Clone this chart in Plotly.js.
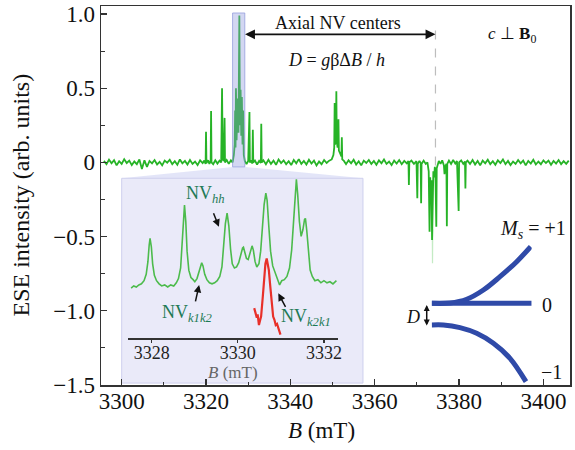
<!DOCTYPE html>
<html>
<head>
<meta charset="utf-8">
<script src="https://cdn.plot.ly/plotly-3.0.1.min.js"></script>
<style>html,body{margin:0;padding:0;background:#fff;}#chart{width:575px;height:450px;}</style>
</head>
<body>
<div id="chart"></div>
<script>
// ---------- main ESE spectrum (B in mT, intensity arb. units) ----------
var specB = [
 3295.8,3296.4,3297.0,3297.6,3298.2,3298.8,3299.4,3300.0,3300.6,3301.2,
 3301.8,3302.4,3303.0,3303.6,3304.2,3304.8,3305.4,3306.0,3306.6,3307.2,
 3307.8,3308.4,3309.0,3309.6,3310.2,3310.8,3311.4,3312.0,3312.6,3313.2,
 3313.8,3314.4,3315.0,3315.6,3316.2,3316.8,3317.4,3318.0,3318.6,3319.2,
 3319.6,3319.9,3320.0,3320.1,3320.5,3320.8,3321.1,3321.2,3321.3,3321.7,
 3322.2,3322.7,3323.2,3323.6,3323.8,3323.95,3324.2,3324.4,3324.5,3324.9,
 3325.4,3325.9,3326.3,3326.6,3326.8,3326.9,3327.0,3327.1,3327.25,3327.5,
 3327.7,3327.9,3328.05,3328.2,3328.35,3328.5,3328.65,3328.8,3328.95,3329.2,
 3329.6,3330.0,3330.3,3330.4,3330.7,3331.0,3331.1,3331.2,3331.6,3332.1,
 3332.6,3333.0,3333.1,3333.2,3333.6,3334.2,
 3334.8,3335.4,3336.0,3336.6,3337.2,3337.8,3338.4,3339.0,3339.6,3340.2,
 3340.8,3341.4,3342.0,3342.6,3343.2,3343.8,3344.4,3345.0,3345.6,3346.2,
 3346.8,3347.4,3348.0,3348.6,3349.2,3349.8,
 3350.2,3350.4,3350.5,3350.6,3350.8,3350.9,3351.0,3351.2,3351.4,3351.5,
 3351.8,3352.1,3352.2,3352.3,3352.7,
 3353.2,3353.8,3354.4,3355.0,3355.6,3356.2,3356.8,3357.4,3358.0,3358.6,
 3359.2,3359.8,3360.4,3361.0,3361.6,3362.2,3362.8,3363.4,3364.0,3364.6,
 3365.2,3365.8,3366.4,3367.0,3367.6,
 3368.0,3368.1,3368.2,3368.7,3369.3,3369.9,3370.1,3370.2,3370.6,3370.9,
 3371.0,3371.1,3371.6,3372.1,3372.5,3372.8,3373.0,3373.15,3373.3,3373.45,
 3373.6,3373.75,3373.9,3374.1,3374.25,3374.4,3374.6,3374.7,3374.9,3375.2,
 3375.6,3376.0,3376.4,3376.55,3376.7,3377.0,3377.1,3377.2,3377.6,3378.1,
 3378.6,3379.1,3379.5,3379.9,3380.0,3380.5,3381.0,3381.4,3381.5,3381.6,
 3382.0,
 3382.6,3383.2,3383.8,3384.4,3385.0,3385.6,3386.2,3386.8,3387.4,3388.0,
 3388.6,3389.2,3389.8,3390.4,3391.0,3391.6,3392.2,3392.8,3393.4,3394.0,
 3394.6,3395.2,3395.8,3396.4,3397.0,3397.6,3398.2,3398.8,3399.4,3400.0,
 3400.6,3401.2,3401.8,3402.4,3403.0,3403.6,3404.2,3404.8,3405.4,3406.0
];
var specI = [
 0.010,-0.012,0.018,-0.006,0.015,-0.020,0.008,-0.010,0.022,-0.004,
 0.012,-0.018,0.006,-0.012,0.020,-0.045,0.014,-0.030,0.010,-0.006,
 0.016,-0.014,0.004,-0.020,0.012,-0.002,0.018,-0.012,0.008,-0.016,
 0.020,-0.006,0.010,-0.014,0.016,-0.010,0.006,-0.018,0.014,-0.004,
 0.012,-0.010,0.207,-0.005,0.015,-0.010,0.010,0.346,0.000,-0.012,
 0.014,-0.008,0.012,0.000,0.500,0.020,0.010,0.300,0.000,0.016,
 -0.010,0.014,0.000,0.050,0.120,0.350,0.100,0.500,0.150,0.430,
 0.200,0.990,0.250,0.490,0.180,0.440,0.120,0.350,0.050,0.010,
 -0.012,0.010,0.340,0.000,0.014,-0.008,0.220,0.000,0.012,-0.014,
 0.010,-0.004,0.260,0.000,0.014,-0.012,
 0.018,-0.010,0.012,-0.016,0.020,-0.004,0.014,-0.012,0.008,-0.018,
 0.016,-0.006,0.022,-0.010,0.010,-0.014,0.018,-0.008,0.012,-0.020,
 0.006,-0.012,0.016,-0.004,0.012,0.020,
 0.050,0.100,0.400,0.120,0.150,0.480,0.140,0.100,0.290,0.080,
 0.060,0.040,0.170,0.020,0.010,
 -0.012,0.014,-0.006,0.018,-0.014,0.008,-0.020,0.012,-0.004,0.016,
 -0.010,0.010,-0.016,0.014,-0.006,0.020,-0.010,0.006,-0.018,0.012,
 -0.008,0.016,-0.012,0.010,-0.006,
 0.010,-0.152,0.000,0.012,-0.010,0.008,-0.242,-0.010,0.010,-0.005,
 -0.276,-0.010,0.012,-0.010,0.000,-0.060,-0.467,-0.100,-0.200,-0.120,
 -0.523,-0.150,-0.060,-0.100,-0.030,-0.080,-0.433,-0.040,-0.020,0.010,
 -0.010,0.014,-0.020,-0.080,-0.030,-0.010,-0.430,-0.010,0.012,-0.010,
 0.016,-0.008,0.010,-0.327,0.000,0.014,-0.010,0.006,-0.175,0.000,
 0.012,
 -0.010,0.016,-0.014,0.010,-0.020,0.012,-0.006,0.018,-0.012,0.008,
 -0.016,0.014,-0.004,0.020,-0.012,0.010,-0.018,0.006,-0.010,0.016,
 -0.006,0.012,-0.020,0.010,-0.008,0.018,-0.014,0.006,-0.012,0.014,
 -0.004,0.012,-0.016,0.010,-0.008,0.016,-0.012,0.008,-0.010,0.012
];
// faint tail of the strongest negative line
var faintB = [3373.65, 3373.7, 3373.75];
var faintI = [-0.45, -0.68, -0.45];

// ---------- inset: zoom of the axial NV region ----------
var insetB = [
 3327.52,3327.58,3327.64,3327.70,3327.76,3327.82,3327.87,3327.91,3327.94,3327.96,
 3327.99,3328.02,3328.06,3328.11,3328.17,3328.23,3328.30,3328.37,3328.44,3328.51,
 3328.57,3328.62,3328.67,3328.71,3328.74,3328.76,3328.79,3328.82,3328.86,3328.91,
 3328.96,3329.00,3329.05,3329.10,3329.13,3329.16,3329.19,3329.23,3329.28,3329.34,
 3329.40,3329.46,3329.52,3329.58,3329.63,3329.67,3329.71,3329.75,3329.79,3329.83,
 3329.87,3329.92,3329.97,3330.02,3330.07,3330.11,3330.13,3330.16,3330.20,3330.24,
 3330.28,3330.31,3330.33,3330.36,3330.40,3330.44,3330.49,3330.53,3330.57,3330.61,
 3330.65,3330.68,3330.72,3330.76,3330.81,3330.86,3330.92,3330.97,3331.02,3331.08,
 3331.14,3331.20,3331.25,3331.29,3331.33,3331.36,3331.39,3331.43,3331.47,3331.51,
 3331.55,3331.57,3331.60,3331.64,3331.68,3331.73,3331.79,3331.86,3331.93,3332.00,
 3332.07,3332.14,3332.21,3332.29
];
var insetI = [
 -0.03,-0.01,-0.02,0.00,0.01,0.04,0.10,0.22,0.38,0.44,
 0.36,0.20,0.09,0.04,0.01,-0.01,0.00,-0.02,0.00,-0.01,
 0.02,0.06,0.16,0.40,0.68,0.757,0.60,0.32,0.14,0.07,
 0.05,0.03,0.06,0.13,0.19,0.21,0.18,0.10,0.05,0.02,
 0.01,0.02,0.04,0.08,0.17,0.36,0.58,0.68,0.56,0.34,
 0.20,0.16,0.17,0.21,0.30,0.35,0.357,0.32,0.25,0.24,
 0.31,0.36,0.37,0.33,0.22,0.17,0.20,0.32,0.52,0.76,
 0.87,0.80,0.55,0.32,0.18,0.12,0.05,0.00,0.04,0.05,
 0.08,0.16,0.33,0.60,0.88,1.00,0.86,0.60,0.46,0.52,
 0.62,0.63,0.52,0.30,0.14,0.08,0.04,0.05,0.02,0.04,
 0.02,0.03,0.01,0.04
];
var redB = [3330.38,3330.41,3330.44,3330.46,3330.49,3330.52,3330.54,3330.58,3330.61,3330.64,
            3330.67,3330.70,3330.72,3330.75,3330.77,3330.80,3330.82,3330.85,3330.88,3330.91,
            3330.94,3330.97,3330.99];
var redI = [-0.22,-0.26,-0.31,-0.28,-0.38,-0.33,-0.30,-0.11,0.08,0.20,
            0.25,0.20,0.14,0.00,-0.11,-0.22,-0.30,-0.33,-0.38,-0.37,
            -0.41,-0.45,-0.47];

// ---------- energy-level sketch (field fraction, energy) ----------
var levelPlusX  = [0, 0.183, 0.35, 0.517, 0.683, 0.85, 0.99];
var levelPlusE  = [0, 0.004, 0.053, 0.175, 0.351, 0.549, 0.747];
var levelZeroX  = [0, 1.0];
var levelZeroE  = [0, 0];
var levelMinusX = [0, 0.117, 0.283, 0.45, 0.617, 0.783, 0.943];
var levelMinusE = [-0.286, -0.286, -0.321, -0.396, -0.528, -0.726, -1.034];

// ---------- ticks ----------
var xTicks = [3300, 3320, 3340, 3360, 3380, 3400];
var yTicks = [1.0, 0.5, 0, -0.5, -1.0, -1.5];
var yTickText = ['1.0', '0.5', '0', '\u22120.5', '\u22121.0', '\u22121.5'];
var insetTicks = [3328, 3330, 3332];

var serif = 'Liberation Serif, Times New Roman, serif';
var green = '#26b326';
var blue = '#2f4aa8';
var teal = '#1e7a56';

var traces = [
  {x: specB, y: specI, type: 'scatter', mode: 'lines', xaxis: 'x', yaxis: 'y',
   line: {color: green, width: 1.8}, hoverinfo: 'skip'},
  {x: faintB, y: faintI, type: 'scatter', mode: 'lines', xaxis: 'x', yaxis: 'y',
   line: {color: 'rgba(60,190,60,0.3)', width: 1.2}, hoverinfo: 'skip'},
  {x: insetB, y: insetI, type: 'scatter', mode: 'lines', xaxis: 'x2', yaxis: 'y2',
   line: {color: '#4cbb4c', width: 1.6}, hoverinfo: 'skip'},
  {x: redB, y: redI, type: 'scatter', mode: 'lines', xaxis: 'x2', yaxis: 'y2',
   line: {color: '#e8302a', width: 2.2}, hoverinfo: 'skip'},
  {x: levelPlusX, y: levelPlusE, type: 'scatter', mode: 'lines', xaxis: 'x3', yaxis: 'y3',
   line: {color: blue, width: 5, shape: 'spline'}, hoverinfo: 'skip'},
  {x: levelZeroX, y: levelZeroE, type: 'scatter', mode: 'lines', xaxis: 'x3', yaxis: 'y3',
   line: {color: blue, width: 5}, hoverinfo: 'skip'},
  {x: levelMinusX, y: levelMinusE, type: 'scatter', mode: 'lines', xaxis: 'x3', yaxis: 'y3',
   line: {color: blue, width: 5, shape: 'spline'}, hoverinfo: 'skip'}
];

var axisCol = '#333';
function lbl(x, y, xref, yref, text, size, color) {
  return {x: x, y: y, xref: xref, yref: yref, text: text, showarrow: false,
          xanchor: 'center', yanchor: 'middle',
          font: {family: serif, size: size, color: color || '#111'}};
}
var yTitle = lbl(-0.1727, 0.5, 'paper', 'paper', 'ESE intensity (arb. units)', 24);
yTitle.textangle = -90;

var layout = {
  width: 575, height: 450,
  margin: {l: 101, r: 5, t: 6, b: 65},
  paper_bgcolor: '#ffffff', plot_bgcolor: 'rgba(0,0,0,0)',
  showlegend: false,
  font: {family: serif, color: '#111'},
  xaxis: {
    domain: [0, 1], range: [3295.1, 3406.3], anchor: 'y',
    tickvals: xTicks, ticks: 'inside', ticklen: 6, tickwidth: 1.2, tickcolor: axisCol,
    ticklabelstandoff: -5,
    showline: true, linecolor: axisCol, linewidth: 1.5, mirror: true,
    showgrid: false, zeroline: false,
    tickfont: {family: serif, size: 23, color: '#111'},
    minor: {ticks: 'inside', ticklen: 3.5, tickwidth: 1, tickcolor: axisCol, dtick: 10, tick0: 3300, showgrid: false}
  },
  yaxis: {
    domain: [0, 1], range: [-1.5, 1.054], anchor: 'x',
    tickvals: yTicks, ticktext: yTickText, ticks: 'inside', ticklen: 6, tickwidth: 1.2, tickcolor: axisCol,
    showline: true, linecolor: axisCol, linewidth: 1.5, mirror: true,
    showgrid: false, zeroline: false,
    tickfont: {family: serif, size: 23, color: '#111'},
    minor: {ticks: 'inside', ticklen: 3.5, tickwidth: 1, tickcolor: axisCol, dtick: 0.25, tick0: 0, showgrid: false}
  },
  xaxis2: {
    domain: [0.0569, 0.5047], range: [3327.44, 3332.32], anchor: 'y2',
    tickvals: insetTicks, ticks: 'outside', ticklen: 3, tickwidth: 1.2, tickcolor: '#333',
    ticklabelstandoff: -5,
    showline: true, linecolor: '#333', linewidth: 2, showgrid: false, zeroline: false,
    tickfont: {family: serif, size: 18, color: '#222'}
  },
  yaxis2: {
    domain: [0.1248, 0.546], range: [-0.5, 1.012], anchor: 'x2', visible: false
  },
  xaxis3: {domain: [0.7051, 0.9183], range: [0, 1], anchor: 'y3', visible: false},
  yaxis3: {domain: [0, 0.4], range: [-1.078, 0.922], anchor: 'x3', visible: false},
  shapes: [
    {type: 'path', xref: 'paper', yref: 'paper', layer: 'below',
     path: 'M 0.0441 0.5454 L 0.2814 0.5752 L 0.3070 0.5752 L 0.5586 0.5454 Z',
     fillcolor: 'rgba(215,218,245,0.7)', line: {width: 0}},
    {type: 'rect', xref: 'paper', yref: 'paper', layer: 'below',
     x0: 0.0441, x1: 0.5586, y0: 0.005, y1: 0.5454,
     fillcolor: '#eaeaf9', line: {color: '#cfd0ee', width: 1}},
    {type: 'rect', xref: 'x', yref: 'y', layer: 'above',
     x0: 3326.3, x1: 3329.2, y0: -0.03, y1: 1.007,
     fillcolor: 'rgba(140,150,220,0.38)', line: {color: 'rgba(140,150,220,0.7)', width: 1}},
    {type: 'line', xref: 'x', yref: 'y', x0: 3374.4, x1: 3374.4, y0: -0.02, y1: 0.93,
     line: {color: '#bdbdbd', width: 1.2, dash: 'dash'}}
  ],
  annotations: [
    // axis titles
    lbl(0.471, -0.12, 'paper', 'paper', '<i>B</i> (mT)', 23),
    yTitle,
    {x: 3374.4, y: 0.863, ax: 3328.9, ay: 0.863, xref: 'x', yref: 'y', axref: 'x', ayref: 'y',
     text: '', showarrow: true, arrowhead: 2, arrowside: 'end+start', arrowsize: 1.1, arrowwidth: 1.8, arrowcolor: '#111'},
    lbl(3351.3, 0.94, 'x', 'y', 'Axial NV centers', 18),
    lbl(3351.0, 0.69, 'x', 'y', '<i>D</i> = <i>g</i>\u03b2\u0394<i>B</i> / <i>h</i>', 18),
    lbl(3392.6, 0.858, 'x', 'y', '<i>c</i> \u22a5 <b>B</b><sub>0</sub>', 17),
    // inset labels
    lbl(0.281, 0.033, 'paper', 'paper', '<i>B</i> (mT)', 17, '#666'),
    lbl(3329.24, 0.86, 'x2', 'y2', 'NV<sub><i>hh</i></sub>', 18, teal),
    {x: 3329.56, y: 0.55, xref: 'x2', yref: 'y2', ax: -6, ay: -15, text: '', showarrow: true,
     arrowhead: 2, arrowsize: 1, arrowwidth: 1.5, arrowcolor: '#111'},
    lbl(3328.81, -0.27, 'x2', 'y2', 'NV<sub><i>k1k2</i></sub>', 18, teal),
    {x: 3329.10, y: 0.0, xref: 'x2', yref: 'y2', ax: -4, ay: 18, text: '', showarrow: true,
     arrowhead: 2, arrowsize: 1, arrowwidth: 1.5, arrowcolor: '#111'},
    lbl(3331.59, -0.31, 'x2', 'y2', 'NV<sub><i>k2k1</i></sub>', 18, teal),
    {x: 3330.94, y: -0.08, xref: 'x2', yref: 'y2', ax: 8, ay: 15, text: '', showarrow: true,
     arrowhead: 2, arrowsize: 1, arrowwidth: 1.5, arrowcolor: '#111'},
    // energy-level labels
    lbl(0.921, 0.409, 'paper', 'paper', '<i>M<sub>s</sub></i> = +1', 20),
    lbl(0.950, 0.211, 'paper', 'paper', '0', 20),
    lbl(0.961, 0.035, 'paper', 'paper', '\u22121', 20),
    lbl(0.666, 0.180, 'paper', 'paper', '<i>D</i>', 18),
    {x: 0.6945, y: 0.211, xref: 'paper', yref: 'paper', ax: 0, ay: 22, text: '', showarrow: true,
     arrowhead: 2, arrowside: 'end+start', arrowsize: 0.8, arrowwidth: 1.5, arrowcolor: '#111'}
  ]
};

Plotly.newPlot('chart', traces, layout, {displayModeBar: false, staticPlot: true});
</script>
</body>
</html>
